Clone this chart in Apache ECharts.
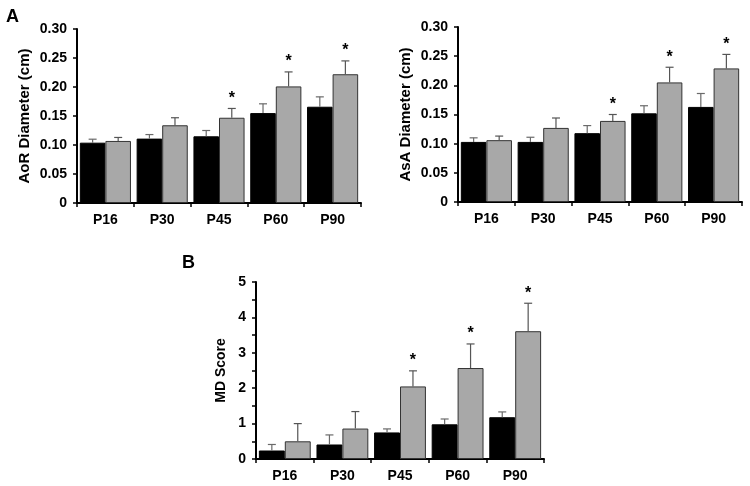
<!DOCTYPE html>
<html>
<head>
<meta charset="utf-8">
<script src="https://cdn.jsdelivr.net/npm/echarts@6/dist/echarts.min.js"></script>
<style>
html,body{margin:0;padding:0;background:#fff;}
#c{width:750px;height:486px;}
</style>
</head>
<body>
<div id="c"></div>
<script>
var categories = ['P16','P30','P45','P60','P90'];
var aorCtrl = [0.104,0.111,0.115,0.155,0.166];
var aorCtrlErr = [0.006,0.007,0.010,0.016,0.017];
var aorMut = [0.107,0.134,0.147,0.201,0.222];
var aorMutErr = [0.006,0.013,0.016,0.025,0.023];
var asaCtrl = [0.103,0.103,0.118,0.152,0.163];
var asaCtrlErr = [0.007,0.008,0.013,0.013,0.023];
var asaMut = [0.106,0.127,0.139,0.205,0.229];
var asaMutErr = [0.007,0.017,0.011,0.026,0.024];
var mdCtrl = [0.24,0.41,0.75,0.98,1.18];
var mdCtrlErr = [0.17,0.27,0.10,0.15,0.15];
var mdMut = [0.50,0.86,2.05,2.57,3.61];
var mdMutErr = [0.50,0.48,0.44,0.68,0.79];
var significant = [false,false,true,true,true];
var yTicksA = [0,0.05,0.10,0.15,0.20,0.25,0.30];
var yTicksB = [0,1,2,3,4,5];

var FONT = 'Liberation Sans, Arial, sans-serif';
var chart = echarts.init(document.getElementById('c'), null, {renderer:'canvas'});

function xAx(gi){
  return {
    type:'category', gridIndex:gi, data:categories,
    axisLine:{lineStyle:{color:'#000',width:2}},
    axisTick:{show:true,length:4,lineStyle:{color:'#000',width:1.5}},
    axisLabel:{color:'#000',fontFamily:FONT,fontWeight:'bold',fontSize:14,margin:10}
  };
}
function yAx(gi,ticks,name,gap,minor,fs){
  return {
    type:'value', gridIndex:gi, min:ticks[0], max:ticks[ticks.length-1],
    interval:ticks[1]-ticks[0],
    name:name, nameLocation:'middle', nameGap:gap,
    nameTextStyle:{color:'#000',fontFamily:FONT,fontWeight:'bold',fontSize:fs},
    axisLine:{show:true,lineStyle:{color:'#000',width:2}},
    axisTick:{show:true,length:4,lineStyle:{color:'#000',width:1.5}},
    minorTick:{show:minor,splitNumber:2,length:4,lineStyle:{color:'#000',width:1.5}},
    splitLine:{show:false},
    axisLabel:{color:'#000',fontFamily:FONT,fontWeight:'bold',fontSize:14,margin:10,
      formatter:function(v){ if(v===0) return '0'; return (ticks[1]-ticks[0])<1 ? v.toFixed(2) : String(v); }}
  };
}

function bars(gi,vals,color,border){
  return {
    type:'bar', xAxisIndex:gi, yAxisIndex:gi, data:vals,
    barCategoryGap:'10%', barGap:'0%',
    itemStyle:{color:color,borderColor:border,borderWidth:1},
    z:2, silent:true
  };
}

function errSeries(gi,means,errs,side,color,stars){
  var data = means.map(function(m,i){ return [i,m,m+errs[i],stars&&significant[i]?1:0]; });
  return {
    type:'custom', xAxisIndex:gi, yAxisIndex:gi, data:data, z:5, silent:true,
    renderItem:function(params,api){
      var cat=api.value(0);
      var base=api.coord([cat,api.value(1)]);
      var top=api.coord([cat,api.value(2)]);
      var cw=api.size([1,0])[0];
      var bw=cw*0.45;
      var x=base[0]+side*bw/2;
      var cap=4;
      var ch=[
        {type:'line',shape:{x1:x,y1:base[1],x2:x,y2:top[1]},style:{stroke:color,lineWidth:1.2}},
        {type:'line',shape:{x1:x-cap,y1:top[1],x2:x+cap,y2:top[1]},style:{stroke:color,lineWidth:1.2}}
      ];
      if(api.value(3)===1){
        ch.push({type:'text',style:{text:'*',x:x,y:top[1]-2,align:'center',verticalAlign:'bottom',
          fill:'#000',font:'bold 16px '+FONT}});
      }
      return {type:'group',children:ch};
    }
  };
}

var option = {
  animation:false,
  backgroundColor:'#fff',
  grid:[
    {left:77,top:29,width:284,height:174},
    {left:458,top:27,width:284,height:175},
    {left:256,top:282,width:288,height:177}
  ],
  xAxis:[xAx(0),xAx(1),xAx(2)],
  yAxis:[
    yAx(0,yTicksA,'AoR Diameter (cm)',45,false,15),
    yAx(1,yTicksA,'AsA Diameter (cm)',45,false,15),
    yAx(2,yTicksB,'MD Score',28,true,14)
  ],
  graphic:[
    {type:'text',left:6,top:8,style:{text:'A',font:'bold 18px '+FONT,fill:'#000'}},
    {type:'text',left:182,top:254,style:{text:'B',font:'bold 18px '+FONT,fill:'#000'}}
  ],
  series:[
    bars(0,aorCtrl,'#000','#000'), bars(0,aorMut,'#a8a8a8','#333'),
    errSeries(0,aorCtrl,aorCtrlErr,-1,'#6a6a6a',false), errSeries(0,aorMut,aorMutErr,1,'#555',true),
    bars(1,asaCtrl,'#000','#000'), bars(1,asaMut,'#a8a8a8','#333'),
    errSeries(1,asaCtrl,asaCtrlErr,-1,'#6a6a6a',false), errSeries(1,asaMut,asaMutErr,1,'#555',true),
    bars(2,mdCtrl,'#000','#000'), bars(2,mdMut,'#a8a8a8','#333'),
    errSeries(2,mdCtrl,mdCtrlErr,-1,'#6a6a6a',false), errSeries(2,mdMut,mdMutErr,1,'#555',true)
  ]
};
chart.setOption(option);
</script>
</body>
</html>
